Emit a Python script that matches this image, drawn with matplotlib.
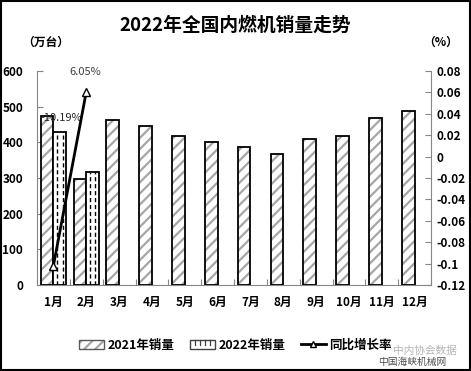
import matplotlib
matplotlib.use('Agg')
import matplotlib.pyplot as plt
import numpy as np
from matplotlib.patches import Patch, Rectangle
from matplotlib.lines import Line2D
from matplotlib.legend_handler import HandlerTuple, HandlerBase

plt.rcParams['font.family'] = ['Noto Sans CJK SC', 'DejaVu Sans']
plt.rcParams['font.weight'] = 'bold'
plt.rcParams['hatch.linewidth'] = 1.6

# ---------------- data ----------------
months = ['1月', '2月', '3月', '4月', '5月', '6月', '7月', '8月', '9月', '10月', '11月', '12月']
sales_2021 = [475, 296, 464, 445, 417, 400, 386, 366, 408, 419, 467, 487]
sales_2022 = [428, 316]
growth_pct = [-10.19, 6.05]
growth_labels = ['-10.19%', '6.05%']
left_ticks = [0, 100, 200, 300, 400, 500, 600]
right_ticks = [-0.12, -0.10, -0.08, -0.06, -0.04, -0.02, 0.0, 0.02, 0.04, 0.06, 0.08]
right_tick_labels = ['-0.12', '-0.1', '-0.08', '-0.06', '-0.04', '-0.02', '0',
                     '0.02', '0.04', '0.06', '0.08']
legend_labels = ['2021年销量', '2022年销量', '同比增长率']

AXIS_GRAY = '#868686'

fig = plt.figure(figsize=(4.71, 3.71), dpi=100)
ax = fig.add_axes([0.0786, 0.2318, 0.8365, 0.5768])

x = np.arange(len(months))
w = 0.385

# 2021 bars: gray hatch + black outline
ax.bar(x - w / 2, sales_2021, w, color='white', edgecolor='#a6a6a6', hatch='///',
       linewidth=0, zorder=2)
ax.bar(x - w / 2, sales_2021, w, fill=False, edgecolor='black', linewidth=1.3, zorder=3)

# 2022 bars: white with black outline and dashed vertical lines
x22 = x[:len(sales_2022)] + w / 2
bars22 = ax.bar(x22, sales_2022, w, color='white', edgecolor='black', linewidth=1.3, zorder=3)
for b in bars22:
    for f in (0.3, 0.72):
        xx = b.get_x() + f * b.get_width()
        ax.plot([xx, xx], [0, b.get_height()], color='black', lw=1.0,
                ls=(0, (3, 2)), zorder=4)

ax.set_xlim(-0.5, len(months) - 0.5)
ax.set_ylim(left_ticks[0], left_ticks[-1])
ax.set_yticks(left_ticks)
ax.set_xticks(np.arange(-0.5, len(months), 1.0))
ax.set_xticklabels([])
ax.set_xticks(x, months, minor=True)
ax.tick_params(axis='x', which='major', direction='in', length=4, color=AXIS_GRAY)
ax.tick_params(axis='x', which='minor', length=0, pad=8, labelsize=8.5)
ax.tick_params(axis='y', direction='in', length=4, color=AXIS_GRAY, pad=10, labelsize=8.5)
for s in ['top', 'right']:
    ax.spines[s].set_visible(False)
for s in ['left', 'bottom']:
    ax.spines[s].set_color(AXIS_GRAY)

# growth line on right axis
ax2 = ax.twinx()
g = [v / 100 for v in growth_pct]
ax2.plot(x[:len(g)], g, color='black', lw=2, marker='^', markersize=6,
         markerfacecolor='white', markeredgecolor='black', zorder=5)
ax2.set_ylim(right_ticks[0], right_ticks[-1])
ax2.set_yticks(right_ticks, right_tick_labels)
ax2.tick_params(axis='y', direction='in', length=4, color=AXIS_GRAY, pad=4, labelsize=8.5)
for s in ['top', 'left', 'bottom']:
    ax2.spines[s].set_visible(False)
ax2.spines['right'].set_color(AXIS_GRAY)

ax2.annotate(growth_labels[0], xy=(x[0], g[0]), xytext=(6, 106), textcoords='offset points',
             ha='center', va='center', fontsize=8, fontweight='normal', color='#262626')
ax2.annotate(growth_labels[1], xy=(x[1], g[1]), xytext=(-1, 14.5), textcoords='offset points',
             ha='center', va='center', fontsize=8, fontweight='normal', color='#404040')

# titles / units
fig.text(0.5, 0.933, '2022年全国内燃机销量走势', ha='center', va='center',
         fontsize=13.5, fontweight='bold')
fig.text(0.098, 0.887, '（万台）', ha='center', va='center', fontsize=8.5, fontweight='bold')
fig.text(0.936, 0.887, '（%）', ha='center', va='center', fontsize=8.5, fontweight='bold')


class DashedBarHandler(HandlerBase):
    def create_artists(self, legend, orig_handle, xdescent, ydescent, width, height,
                       fontsize, trans):
        rect = Rectangle((-xdescent, -ydescent), width, height, facecolor='white',
                         edgecolor='#404040', lw=1, transform=trans)
        arts = [rect]
        for f in (0.2, 0.4, 0.6, 0.8):
            xx = -xdescent + f * width
            arts.append(Line2D([xx, xx], [-ydescent + height * 0.35, -ydescent + height],
                               color='#404040', lw=0.9, transform=trans))
        return arts


h21 = (Patch(facecolor='white', edgecolor='#a6a6a6', hatch='///', lw=0),
       Patch(facecolor='none', edgecolor='#595959', lw=1))
h22 = Patch(facecolor='white', edgecolor='black')
hline = Line2D([], [], color='black', lw=2, marker='^', markersize=5,
               markerfacecolor='white', markeredgecolor='black')
fig.legend([h21, h22, hline], legend_labels, ncol=3, loc='center',
           bbox_to_anchor=(0.5, 0.07), frameon=False,
           prop={'size': 9, 'weight': 'bold'}, handlelength=2.0, handletextpad=0.3,
           columnspacing=1.2,
           handler_map={tuple: HandlerTuple(ndivide=1), h22: DashedBarHandler()})

# watermark text
fig.text(0.902, 0.054, '中内协会数据', ha='center', va='center', fontsize=7.7,
         fontweight='normal', color='#b5b5b5')
fig.text(0.875, 0.024, '中国海峡机械网', ha='center', va='center', fontsize=7,
         fontweight='normal', color='#4d4d4d')

# outer border
fig.patches.append(Rectangle((0.002, 0.003), 0.996, 0.994, transform=fig.transFigure,
                             fill=False, edgecolor='black', lw=1.5))

fig.savefig('out.png', dpi=100)
